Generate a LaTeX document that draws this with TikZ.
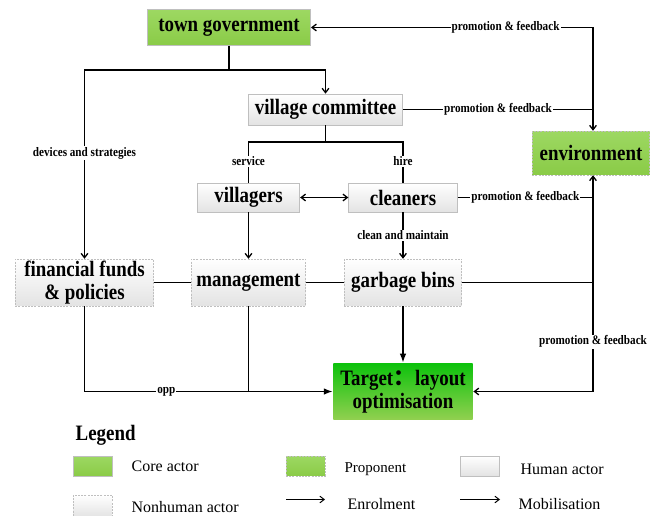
\documentclass[tikz,border=0pt]{standalone}
\usepackage{fontspec}
\setmainfont{Liberation Serif}
\newfontfamily\narrowserif[FakeStretch=0.86]{Liberation Serif}
\newfontfamily\cjk{Noto Sans CJK SC}
\usepackage{tikz}
\usetikzlibrary{arrows.meta}
\usetikzlibrary{calc}
\tikzset{>={Straight Barb[angle=75:5.5bp]}}
\definecolor{core green}{HTML}{92D050}
\definecolor{core light}{HTML}{9DD862}
\definecolor{core dark}{HTML}{8ACB47}
\definecolor{target top}{HTML}{0CC20C}
\definecolor{box line}{HTML}{BFBFBF}
\definecolor{box bottom}{HTML}{E3E3E3}
\newcommand{\boxfont}{\narrowserif\bfseries\fontsize{22bp}{23bp}\selectfont}
\newcommand{\flowfont}{\narrowserif\bfseries\fontsize{13bp}{14bp}\selectfont}
\newcommand{\keyfont}{\fontsize{16bp}{18bp}\selectfont}

\begin{document}
\begin{tikzpicture}[x=1bp, y=-1bp, line width=1.3bp]
            \tikzset{actor/.style 2 args={inner sep=0pt, align=center, font=\boxfont, minimum width=#1, minimum height=#2}}
            \tikzset{core actor/.style 2 args={actor={#1}{#2}, draw=box line, line width=0.5bp, top color=core light, bottom color=core dark}}
            \tikzset{proponent/.style 2 args={actor={#1}{#2}, draw=box line, dashed, dash pattern=on 2bp off 1.2bp, line width=0.6bp, top color=core light, bottom color=core dark}}
            \tikzset{human actor/.style 2 args={actor={#1}{#2}, draw=box line, line width=0.7bp, top color=white, bottom color=box bottom}}
            \tikzset{nonhuman actor/.style 2 args={actor={#1}{#2}, draw=box line, dashed, dash pattern=on 2bp off 1.2bp, line width=0.6bp, top color=white, bottom color=box bottom}}
            \tikzset{flow label/.style={fill=white, inner sep=1bp, font=\flowfont}}
            \tikzset{key text/.style={anchor=base west, inner sep=0pt, font=\keyfont}}
            \useasboundingbox (0, 0) rectangle (651, 516);

            % actors
            \node[core actor={164}{36}] (town) at (229, 27.5) {town government};
            \node[human actor={155}{31}] (village) at (325.5, 109.5) {village committee};
            \node[proponent={118}{44}] (env) at (591, 153) {environment};
            \node[human actor={103}{29}] (villagers) at (248.5, 197.5) {villagers};
            \node[human actor={109}{29}] (cleaners) at (403, 197.5) {cleaners};
            \node[nonhuman actor={139}{47}] (funds) at (84.5, 282.5) {financial funds\\\& policies};
            \node[nonhuman actor={115}{47}] (manage) at (248.5, 282.5) {management};
            \node[nonhuman actor={118}{47}] (bins) at (403, 282.5) {garbage bins};
            \node[actor={140}{57}, top color=target top, bottom color=core green] (target) at (403, 391.5) {Target{\cjk ：}layout\\optimisation};
            \coordinate (rail) at (593, 0);
            \coordinate (fork top) at (229, 70);
            \coordinate (fork mid) at (325.5, 142);

            % enrolment from above
            \draw (town.south) -- (fork top);
            \draw[->] (fork top) -| (funds.north) node[flow label, pos=0.72] {devices and strategies};
            \draw[->] (fork top) -| (village.north);
            \draw (village.south) -- (fork mid);
            \draw (fork mid) -| (villagers.north) node[flow label, pos=0.74] {service};
            \draw (fork mid) -| (cleaners.north) node[flow label, pos=0.74] {hire};
            \draw[<->] (villagers.east) -- (cleaners.west);
            \draw[->] (villagers.south) -- (manage.north);
            \draw[->] (cleaners.south) -- (bins.north) node[flow label, midway] {clean and maintain};
            \draw (funds.east) -- (manage.west);
            \draw (manage.east) -- (bins.west);

            % towards the target
            \draw[-Latex] (bins.south) -- (target.north);
            \draw[-Latex] (funds.south) |- (target.west) node[flow label, pos=0.665] {opp};
            \draw (manage.south) -- (manage.south |- target.west);

            % promotion & feedback
            \draw[->] (town.east -| rail) -- (town.east) node[flow label, pos=0.31] {promotion \& feedback};
            \draw[->] (town.east -| rail) -- (env.north -| rail);
            \draw (village.east) -- (village.east -| rail) node[flow label, midway] {promotion \& feedback};
            \draw (cleaners.east) -- (cleaners.east -| rail) node[flow label, midway] {promotion \& feedback};
            \draw (bins.east) -- (bins.east -| rail);
            \draw[<->] (env.south -| rail) |- (target.east) node[flow label, pos=0.385] {promotion \& feedback};

            % legend
            \node[anchor=base west, inner sep=0pt, font=\boxfont] (legend) at (75, 440) {Legend};
            \node[core actor={39}{20}] (key core) at (92.5, 466) {};
            \node[key text] (key core text) at (131, 471) {Core actor};
            \node[proponent={39}{20}] (key prop) at (305.5, 466) {};
            \node[key text, font=\fontsize{15bp}{17bp}\selectfont] (key prop text) at (344, 472) {Proponent};
            \node[human actor={39}{20}] (key human) at (480, 466) {};
            \node[key text] (key human text) at (520, 474) {Human actor};
            \node[nonhuman actor={39}{22}] (key nonhuman) at (92.5, 506) {};
            \node[key text] (key nonhuman text) at (131, 512) {Nonhuman actor};
            \coordinate (key enrol) at (286, 499.5);
            \coordinate (key mobil) at (460, 499.5);
            \draw[->, line width=1bp] (key enrol) -- ++(39, 0);
            \node[key text] (key enrol text) at (347, 509) {Enrolment};
            \draw[->, line width=1bp] (key mobil) -- ++(40, 0);
            \node[key text] (key mobil text) at (518, 509) {Mobilisation};
        \end{tikzpicture}
\end{document}
